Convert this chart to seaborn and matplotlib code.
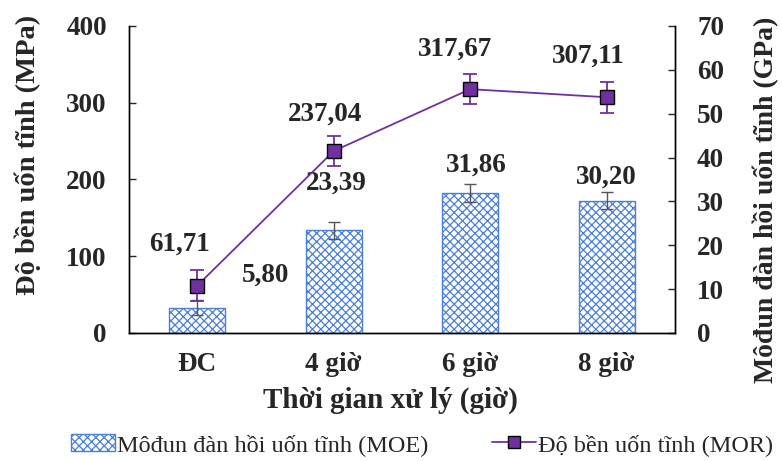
import numpy as np
import seaborn as sns
import matplotlib.pyplot as plt
from matplotlib.patches import Patch
from matplotlib.lines import Line2D

# data
categories = ['ĐC', '4 giờ', '6 giờ', '8 giờ']
moe = [5.80, 23.39, 31.86, 30.20]        # GPa (right axis, bars)
moe_err = [1.8, 2.0, 2.1, 2.0]
mor = [61.71, 237.04, 317.67, 307.11]    # MPa (left axis, line)
mor_err = [20, 20, 20, 20]
moe_labels = ['5,80', '23,39', '31,86', '30,20']
mor_labels = ['61,71', '237,04', '317,67', '307,11']

sns.set_style('white')
plt.rcParams['font.family'] = ['Liberation Serif', 'DejaVu Serif']
plt.rcParams['hatch.linewidth'] = 0.9

purple = '#7030A0'
blue = '#4a7fd6'

fig = plt.figure(figsize=(7.82, 4.61), dpi=100)
ax1 = fig.add_axes([0.165, 0.2777, 0.698, 0.666])
ax2 = ax1.twinx()

# bars on the right (GPa) axis
sns.barplot(x=categories, y=moe, ax=ax2, color='white', width=0.41,
            edgecolor=blue, linewidth=1.0, errorbar=None)
for p in ax2.patches:
    p.set_hatch('xxxx')
    p.set_edgecolor(blue)
ax2.errorbar(np.arange(len(categories)), moe, yerr=moe_err, fmt='none',
             ecolor='#555555', elinewidth=1.0, capsize=4, capthick=1.0)

# line on the left (MPa) axis, drawn above the bars
ax1.set_zorder(ax2.get_zorder() + 1)
ax1.patch.set_visible(False)
sns.pointplot(x=categories, y=mor, ax=ax1, color=purple, markers='s',
              linestyles='-', errorbar=None, markersize=10,
              markeredgecolor='black', markeredgewidth=1.0, linewidth=1.3)
ax1.errorbar(np.arange(len(categories)), mor, yerr=mor_err, fmt='none',
             ecolor=purple, elinewidth=1.3, capsize=5, capthick=1.3, zorder=1)

ax1.set_xlim(-0.5, 3.5)
ax1.set_ylim(0, 400)
ax1.set_yticks(np.arange(0, 401, 100))
ax2.set_ylim(0, 70)
ax2.set_yticks(np.arange(0, 71, 10))

for ax in (ax1, ax2):
    ax.tick_params(axis='y', direction='in', length=5, width=1, labelsize=19.5, pad=16)
    ax.tick_params(axis='x', direction='in', length=5, width=1, labelsize=19.5, pad=14)
    for lab in ax.get_yticklabels() + ax.get_xticklabels():
        lab.set_fontweight('bold')
    ax.spines['top'].set_visible(False)
    for s in ('left', 'right', 'bottom'):
        ax.spines[s].set_color('black')
        ax.spines[s].set_linewidth(1.0)
ax1.set_xlabel('')
ax1.set_ylabel('')
ax2.set_ylabel('')

fig.text(0.036, 0.664, 'Độ bền uốn tĩnh (MPa)', rotation=90, ha='center', va='center',
         fontsize=20.5, fontweight='bold')
fig.text(0.979, 0.566, 'Môđun đàn hồi uốn tĩnh (GPa)', rotation=90, ha='center', va='center',
         fontsize=20, fontweight='bold')
fig.text(0.499, 0.132, 'Thời gian xử lý (giờ)', ha='center', va='center',
         fontsize=21, fontweight='bold')

# data labels
mor_off = [(-18, 41), (-9, 37), (-15, 40), (-18, 41)]
for i, (v, t) in enumerate(zip(mor, mor_labels)):
    ax1.annotate(t, (i, v), xytext=mor_off[i], textcoords='offset pixels',
                 ha='center', va='center', fontsize=19.5, fontweight='bold')
moe_off = [(68, 32), (3, 47), (6, 28), (0, 23)]
for i, (v, t) in enumerate(zip(moe, moe_labels)):
    ax2.annotate(t, (i, v), xytext=moe_off[i], textcoords='offset pixels',
                 ha='center', va='center', fontsize=19.5, fontweight='bold')

handles = [
    Patch(facecolor='white', edgecolor=blue, hatch='xxxx', linewidth=1.0),
    Line2D([0], [0], color=purple, lw=1.3, marker='s', markersize=9,
           markerfacecolor=purple, markeredgecolor='black'),
]
fig.legend(handles, ['Môđun đàn hồi uốn tĩnh (MOE)', 'Độ bền uốn tĩnh (MOR)'],
           loc='center', bbox_to_anchor=(0.54, 0.035), ncol=2, frameon=False,
           fontsize=17.5, handlelength=1.8, columnspacing=2.6, handletextpad=0.1)

fig.savefig('out.png', dpi=100)
